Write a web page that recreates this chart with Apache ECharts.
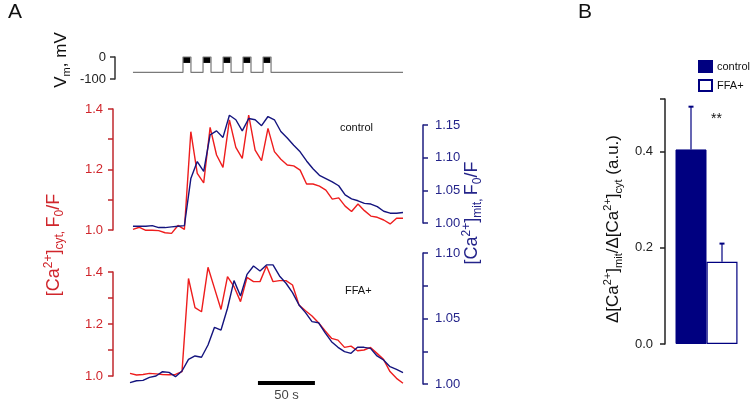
<!DOCTYPE html>
<html>
<head>
<meta charset="utf-8">
<script src="https://cdn.jsdelivr.net/npm/echarts@6/dist/echarts.min.js"></script>
<style>html,body{margin:0;padding:0;background:#fff}#c{width:755px;height:407px}</style>
</head>
<body>
<div id="c"></div>
<script>
// ---- Data ----
// Control cell: cytosolic Ca2+ (F0/F, left red axis) and mitochondrial Ca2+ (F0/F, right blue axis)
const controlCyt = [1.002,1.009,0.999,0.999,0.998,0.991,0.989,1.015,1.002,1.325,1.187,1.156,1.339,1.248,1.207,1.364,1.273,1.237,1.380,1.264,1.229,1.336,1.259,1.234,1.215,1.212,1.198,1.152,1.152,1.145,1.132,1.102,1.106,1.079,1.061,1.086,1.064,1.046,1.042,1.033,1.020,1.039,1.039];
const controlMit = [0.995,0.995,0.995,0.996,0.993,0.993,0.994,0.995,0.996,1.068,1.094,1.079,1.135,1.141,1.131,1.165,1.158,1.141,1.160,1.158,1.149,1.163,1.158,1.140,1.130,1.119,1.109,1.095,1.083,1.073,1.068,1.063,1.057,1.043,1.037,1.034,1.030,1.029,1.025,1.018,1.015,1.015,1.016];
// FFA+ cell
const ffaCyt = [1.010,1.004,1.006,1.010,1.008,1.006,1.005,1.006,1.017,1.375,1.263,1.247,1.418,1.337,1.256,1.382,1.344,1.286,1.379,1.363,1.363,1.423,1.363,1.367,1.367,1.350,1.273,1.251,1.231,1.205,1.174,1.145,1.138,1.110,1.115,1.097,1.100,1.110,1.087,1.064,1.017,0.991,0.972];
const ffaMit = [1.0010,1.0025,1.0028,1.0051,1.0061,1.0094,1.0089,1.0056,1.0099,1.0188,1.0214,1.0204,1.0298,1.0433,1.0412,1.0578,1.0789,1.0672,1.0837,1.0901,1.0863,1.0909,1.0909,1.0825,1.0769,1.0697,1.0603,1.0545,1.0476,1.0468,1.0392,1.0323,1.0280,1.0247,1.0234,1.0280,1.0280,1.0272,1.0214,1.0183,1.0132,1.0112,1.0087];
// sampling (s)
const TOP_START = 0, TOP_STEP = 5.643;
const BOT_START = -2.6, BOT_STEP = 5.705;
const T_MIN = -2.6, T_MAX = 237;
// Voltage protocol (mV, s)
const HOLD_MV = -70, PULSE_MV = 0;
const pulseStarts = [43.9, 61.5, 79.1, 96.6, 114.2];
const PULSE_WIDTH = 7;
const CAP_MV = -27;
// Scale bar (s)
const scaleBar = [109.7, 159.7];
const SCALE_Y = 0.973;
// Tick labels
const cytTicks = [1.0, 1.1, 1.2, 1.3, 1.4];
const cytLabels = [1.0, 1.2, 1.4];
const mitTopTicks = [1.00, 1.05, 1.10, 1.15];
const mitBotTicks = [1.00, 1.025, 1.05, 1.075, 1.10];
const mitBotLabels = [1.00, 1.05, 1.10];
const vmTicks = [-100, 0];
// Panel B
const groups = ['control', 'FFA+'];
const ratioMean = [0.405, 0.171];
const ratioErr = [0.089, 0.038];
const bTicks = [0, 0.2, 0.4, 0.51];
const bLabels = [0, 0.2, 0.4];

// ---- Build ----
const RED = '#ee1d1d', RED_AX = '#c1272d', BLUE = '#14147e', BLUE_AX = '#1e1e80', NAVY = '#000080';
const FONT = 'Liberation Sans, Arial, sans-serif';
const pairs = (arr, s, st) => arr.map((v, i) => [s + i * st, v]);

const vmData = [[0, HOLD_MV]];
pulseStarts.forEach(s => { vmData.push([s, HOLD_MV], [s, PULSE_MV], [s + PULSE_WIDTH, PULSE_MV], [s + PULSE_WIDTH, HOLD_MV]); });
vmData.push([T_MAX, HOLD_MV]);

const L = 130, R = 352;
const grids = [
  {left: L, right: R, top: 57, height: 22},
  {left: L, right: R, top: 109, height: 121},
  {left: L, right: R, top: 125, height: 98},
  {left: L, right: R, top: 272, height: 104},
  {left: L, right: R, top: 253, height: 131},
  {left: 665, width: 83, top: 99, height: 245}
].map(g => Object.assign({outerBoundsMode: 'none', containLabel: false}, g));

const xAxes = [0,1,2,3,4].map(i => ({type: 'value', gridIndex: i, min: T_MIN, max: T_MAX, show: false}));
xAxes.push({type: 'category', gridIndex: 5, data: ['ratio'], show: false});

function yAx(grid, pos, color, min, max, ticks, labels, offset, margin, digits, labColor) {
  return {
    type: 'value', gridIndex: grid, position: pos, min: min, max: max, offset: offset,
    axisLine: {show: true, onZero: false, lineStyle: {color: color, width: 1.5}},
    axisTick: {show: true, length: 5, lineStyle: {color: color, width: 1.5}, customValues: ticks},
    axisLabel: {show: true, customValues: labels, margin: margin, color: labColor || color, fontSize: 13, fontFamily: FONT,
      formatter: v => v.toFixed(digits)},
    splitLine: {show: false}
  };
}
const yAxes = [
  yAx(0, 'left', '#333', -100, 0, vmTicks, vmTicks, 15, 9, 0, '#222'),
  yAx(1, 'left', RED_AX, 1.0, 1.4, cytTicks, cytLabels, 17, 10, 1, '#d0262c'),
  yAx(2, 'right', BLUE_AX, 1.0, 1.15, mitTopTicks, mitTopTicks, 20, 12, 2, '#24248a'),
  yAx(3, 'left', RED_AX, 1.0, 1.4, cytTicks, cytLabels, 17, 10, 1, '#d0262c'),
  yAx(4, 'right', BLUE_AX, 1.0, 1.10, mitBotTicks, mitBotLabels, 20, 12, 2, '#24248a'),
  yAx(5, 'left', '#222', 0, 0.51, bTicks, bLabels, 0, 12, 1, '#222')
];

const lineS = (xi, data, color, w) => ({type: 'line', xAxisIndex: xi, yAxisIndex: xi, data: data, showSymbol: false, symbol: 'none',
  clip: false, lineStyle: {color: color, width: w}, itemStyle: {color: color}, animation: false, silent: true, z: 3});

const series = [
  lineS(0, vmData, '#7a7a7a', 1.2),
  {type: 'custom', xAxisIndex: 0, yAxisIndex: 0, data: pulseStarts.map(s => [s, s + PULSE_WIDTH * 0.92]), animation: false, silent: true,
    renderItem: (p, api) => {
      const a = api.coord([api.value(0), PULSE_MV]);
      const b = api.coord([api.value(1), CAP_MV]);
      return {type: 'rect', shape: {x: a[0], y: a[1], width: b[0] - a[0], height: b[1] - a[1]}, style: {fill: '#000'}};
    }},
  lineS(1, pairs(controlCyt, TOP_START, TOP_STEP), RED, 1.4),
  lineS(2, pairs(controlMit, TOP_START, TOP_STEP), BLUE, 1.4),
  lineS(3, pairs(ffaCyt, BOT_START, BOT_STEP), RED, 1.4),
  lineS(4, pairs(ffaMit, BOT_START, BOT_STEP), BLUE, 1.4),
  lineS(3, scaleBar.map(t => [t, SCALE_Y]), '#000', 4),
  {type: 'scatter', xAxisIndex: 3, yAxisIndex: 3, data: [[(scaleBar[0] + scaleBar[1]) / 2, SCALE_Y]], symbolSize: 0, clip: false, animation: false, silent: true,
    label: {show: true, position: 'bottom', distance: 6, formatter: '50 s', color: '#111', fontSize: 13, fontFamily: FONT}},
  {name: groups[0], type: 'bar', xAxisIndex: 5, yAxisIndex: 5, data: [ratioMean[0]], barWidth: 31, barGap: '0%',
    itemStyle: {color: NAVY, borderColor: NAVY, borderWidth: 1}, animation: false, silent: true},
  {name: groups[1], type: 'bar', xAxisIndex: 5, yAxisIndex: 5, data: [ratioMean[1]], barWidth: 31, barGap: '0%',
    itemStyle: {color: '#fff', borderColor: NAVY, borderWidth: 1.2}, animation: false, silent: true},
  {type: 'custom', xAxisIndex: 5, yAxisIndex: 5, data: ratioMean.map((m, i) => [0, m, ratioErr[i], i]), animation: false, silent: true, z: 5,
    renderItem: (p, api) => {
      const idx = api.value(3);
      const dx = (idx === 0 ? -1 : 1) * 15.5;
      const a = api.coord([api.value(0), api.value(1)]);
      const b = api.coord([api.value(0), api.value(1) + api.value(2)]);
      const x = a[0] + dx;
      return {type: 'group', children: [
        {type: 'line', shape: {x1: x, y1: a[1], x2: x, y2: b[1]}, style: {stroke: NAVY, lineWidth: 1.2}},
        {type: 'line', shape: {x1: x - 2.5, y1: b[1], x2: x + 2.5, y2: b[1]}, style: {stroke: NAVY, lineWidth: 2}}
      ]};
    }}
];

function rtext(x, y, text, color, rich) {
  return {type: 'text', x: x, y: y, rotation: Math.PI / 2, style: {text: text, rich: rich, fill: color, align: 'center', verticalAlign: 'middle'}};
}
const richFor = (c, fs, ss) => ({
  m: {fontSize: fs, fontFamily: FONT, fill: c, lineHeight: fs + 5},
  sup: {fontSize: ss, fontFamily: FONT, fill: c, verticalAlign: 'top'},
  sub: {fontSize: ss, fontFamily: FONT, fill: c, verticalAlign: 'bottom'}
});

const graphic = [
  {type: 'text', x: 8, y: 2, style: {text: 'A', fontSize: 21, fontFamily: FONT, fill: '#111'}},
  {type: 'text', x: 578, y: 2, style: {text: 'B', fontSize: 21, fontFamily: FONT, fill: '#111'}},
  rtext(61, 60, '{m|V}{sub|m}{m|, mV}', '#111', richFor('#111', 17, 11)),
  rtext(54, 245, '{m|[Ca}{sup|2+}{m|]}{sub|cyt, }{m|F}{sub|0}{m|/F}', '#d0262c', richFor('#d0262c', 18, 12)),
  rtext(472, 213, '{m|[Ca}{sup|2+}{m|]}{sub|mit, }{m|F}{sub|0}{m|/F}', '#24248a', richFor('#24248a', 18, 12)),
  rtext(613, 229, '{m|Δ[Ca}{sup|2+}{m|]}{sub|mit}{m|/Δ[Ca}{sup|2+}{m|]}{sub|cyt}{m| (a.u.)}', '#111', richFor('#111', 17, 11)),
  {type: 'text', x: 340, y: 122, style: {text: 'control', fontSize: 11, fontFamily: FONT, fill: '#111'}},
  {type: 'text', x: 345, y: 285, style: {text: 'FFA+', fontSize: 11, fontFamily: FONT, fill: '#111'}},
  {type: 'text', x: 711, y: 112, style: {text: '**', fontSize: 14, fontFamily: FONT, fill: '#111'}}
];

const chart = echarts.init(document.getElementById('c'), null, {renderer: 'canvas'});
chart.setOption({
  backgroundColor: '#fff',
  animation: false,
  grid: grids,
  xAxis: xAxes,
  yAxis: yAxes,
  legend: {data: groups, orient: 'vertical', left: 693, top: 55, icon: 'rect', itemWidth: 13, itemHeight: 11, itemGap: 6,
    textStyle: {fontSize: 11, fontFamily: FONT, color: '#111'}, selectedMode: false},
  graphic: graphic,
  series: series
});
</script>
</body>
</html>
